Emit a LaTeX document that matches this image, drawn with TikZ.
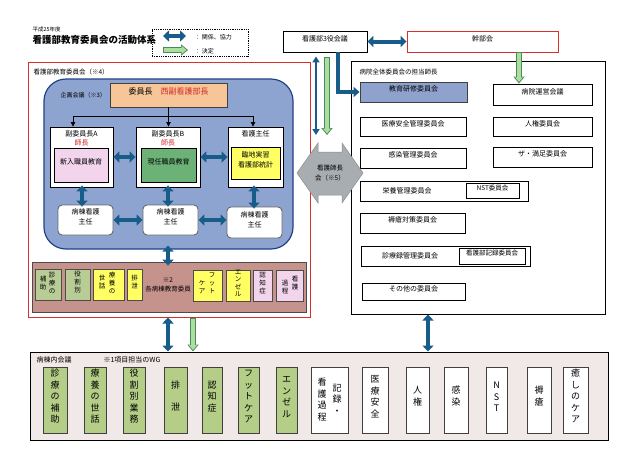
\documentclass[tikz,border=0pt]{standalone}
\usepackage{fontspec}
\setmainfont{Noto Sans CJK JP}
\usetikzlibrary{arrows.meta,fit,calc}
\definecolor{redline}{RGB}{220,45,45}
\definecolor{bluefill}{RGB}{142,164,208}
\definecolor{blueborder}{RGB}{35,65,135}
\definecolor{orangefill}{RGB}{246,198,152}
\definecolor{pinkfill}{RGB}{242,212,236}
\definecolor{midgreen}{RGB}{108,178,118}
\definecolor{yellowfill}{RGB}{255,255,100}
\definecolor{brownfill}{RGB}{198,146,140}
\definecolor{olivefill}{RGB}{184,204,150}
\definecolor{botgreen}{RGB}{180,206,136}
\definecolor{botbg}{RGB}{241,233,231}
\definecolor{ablue}{RGB}{24,92,138}
\definecolor{glight}{RGB}{172,222,160}
\definecolor{gdark}{RGB}{72,140,92}
\definecolor{hexgray}{RGB}{168,173,177}
\definecolor{edufill}{RGB}{142,162,205}
\definecolor{redtxt}{RGB}{215,40,40}
\newcommand\garrow[2]{%
  \draw[garrowout] #1 -- #2;
  \draw[garrowin] #1 -- #2;}
\begin{document}
\begin{tikzpicture}[x=1pt,y=-1pt,
  box/.style={draw=black, line width=0.9pt, fill=white, inner sep=0pt, align=center},
  f7/.style={font=\fontsize{7}{8.5}\selectfont},
  f65/.style={font=\fontsize{6.5}{8}\selectfont},
  vcol/.style={align=center, anchor=north, inner sep=0pt, font=\fontsize{6.5}{8}\selectfont},
  vcolb/.style={align=center, anchor=north, inner sep=0pt, font=\fontsize{9}{11.5}\selectfont},
  colf/.style={font=\fontsize{9}{11.5}\selectfont},
  bdarr/.style={line width=4pt, draw=ablue, {Triangle[width=11pt,length=6pt]}-{Triangle[width=11pt,length=6pt]}},
  bsarr/.style={line width=4pt, draw=ablue, line join=miter, -{Triangle[width=10pt,length=6pt]}},
  tdarr/.style={line width=2.4pt, draw=ablue, {Triangle[width=7pt,length=6pt]}-{Triangle[width=7pt,length=6pt]}},
  thinarr/.style={line width=0.8pt, draw=black, -{Triangle[width=4.5pt,length=4.5pt]}},
  garrowout/.style={line width=5.5pt, draw=gdark, -{Triangle[width=11pt,length=7pt]}},
  garrowin/.style={line width=3.6pt, draw=glight, shorten <=1pt, shorten >=1.5pt, -{Triangle[width=7.6pt,length=4.8pt]}}
]
\useasboundingbox[fill=white] (0,0) rectangle (640,453);

% guide coordinates
\coordinate (tA) at (73,0);
\coordinate (tC) at (253,0);
\coordinate (hy) at (0,116);
\coordinate (vA) at (82,0);
\coordinate (vB) at (168,0);
\coordinate (vC) at (254,0);
\coordinate (v316) at (316,0);
\coordinate (v327) at (327,0);
\coordinate (v338) at (338,0);
\coordinate (v519) at (519,0);
\coordinate (v193) at (193,0);
\coordinate (v428) at (428,0);
\coordinate (hextop) at (330,143);

% title and legend
\node[anchor=west, font=\fontsize{5.5}{6}\selectfont] (year) at (29,29) {平成25年度};
\node[anchor=west, font=\bfseries\fontsize{9.5}{11}\selectfont] (title) at (29,40) {看護部教育委員会の活動体系};
\node[draw, densely dotted, line width=0.8pt, fit={(152,29) (248,56)}, inner sep=0pt] (legend) {};
\coordinate (lgb1) at (163,36);
\coordinate (lgb2) at (186,36);
\coordinate (lgg1) at (163,50);
\coordinate (lgg2) at (188,50);
\draw[bdarr] (lgb1) -- (lgb2);
\garrow{(lgg1)}{(lgg2)}
\node[anchor=west, font=\fontsize{6}{7}\selectfont] (lgt1) at (191,37) {：\ 関係、協力};
\node[anchor=west, font=\fontsize{6}{7}\selectfont] (lgt2) at (191,51) {：\ 決定};

% left red committee box
\node[draw=redline, line width=1pt, fit={(28,62) (310,317)}, inner sep=0pt] (redbox) {};
\node[anchor=west, f65] (redlbl) at (30,72) {看護部教育委員会（※4）};
\node[draw=blueborder, fill=bluefill, line width=1.2pt, rounded corners=22pt, fit={(44,79) (293,249)}, inner sep=0pt] (blue) {};
\node[anchor=west, font=\fontsize{6}{7}\selectfont] (kikaku) at (57,95) {企画会議（※3）};

\node[box, fill=orangefill, draw=black!75, fit={(110,83) (227,107)}, font=\fontsize{8}{9}\selectfont] (chair) {委員長\quad{\color{redtxt}西副看護部長}};

\node[box, fit={(50,127) (113,187)}] (A) {};
\node[box, fit={(136,127) (200,187)}] (B) {};
\node[box, fit={(228,127) (283,187)}] (C) {};
\node[f7] (At) at (81.5,134) {副委員長A};
\node[f7, text=redtxt] (Ar) at (81.5,143) {師長};
\node[f7] (Bt) at (168,134) {副委員長B};
\node[f7, text=redtxt] (Br) at (168,143) {師長};
\node[f7] (Ct) at (255.5,134) {看護主任};
\node[box, fill=pinkfill, fit={(54,148) (108,182)}, f7] (Ai) {新入職員教育};
\node[box, fill=midgreen, fit={(141,148) (196,182)}, f7] (Bi) {現任職員教育};
\node[box, fill=yellowfill, fit={(231,147) (280,179)}, font=\fontsize{7}{10}\selectfont] (Ci) {臨地実習\\看護部統計};

\node[box, rounded corners=4pt, draw=black!60, fit={(58,205) (113,235)}, font=\fontsize{7}{10}\selectfont] (L1) {病棟看護\\主任};
\node[box, rounded corners=4pt, draw=black!60, fit={(143,205) (198,235)}, font=\fontsize{7}{10}\selectfont] (L2) {病棟看護\\主任};
\node[box, rounded corners=4pt, draw=black!60, fit={(227,207) (282,238)}, font=\fontsize{7}{10}\selectfont] (L3) {病棟看護\\主任};

% brown box of ward education committees
\node[box, fill=brownfill, draw=black!70, fit={(32,262) (306,312)}] (brown) {};
\node[box, fill=olivefill, draw=black!70, fit={(35,269) (61,300)}] (b1) {};
\node[vcol] (b1r) at (52,272) {診\\療\\の};
\node[vcol] (b1l) at (43,276) {補\\助};
\node[box, fill=olivefill, draw=black!70, fit={(65,269) (90,300)}, f65] (b2) {役\\割\\別};
\node[box, fill=yellowfill, draw=black!70, fit={(93,269) (124,300)}] (b3) {};
\node[vcol] (b3r) at (112,272) {療\\養\\の};
\node[vcol] (b3l) at (102,275) {世\\話};
\node[box, fill=yellowfill, draw=black!70, fit={(127,269) (142,300)}, f65] (b4) {排\\泄};
\node[align=center, font=\fontsize{6.5}{9}\selectfont] (b5) at (168,285) {※2\\各病棟教育委員};
\node[box, fill=yellowfill, draw=black!70, fit={(193,270) (222,301)}] (b6) {};
\node[vcol] (b6r) at (212,273) {フ\\ッ\\ト};
\node[vcol] (b6l) at (202,280) {ケ\\ア};
\node[box, fill=yellowfill, draw=black!70, fit={(226,270) (250,301)}, font=\fontsize{6.5}{7.3}\selectfont] (b7) {エ\\ン\\ゼ\\ル};
\node[box, fill=pinkfill, draw=black!70, fit={(253,270) (272,301)}, f65] (b8) {認\\知\\症};
\node[box, fill=pinkfill, draw=black!70, fit={(276,270) (303,301)}] (b9) {};
\node[vcol] (b9r) at (295,276) {看\\護};
\node[vcol] (b9l) at (285,280) {過\\程};

% arrows inside blue box
\draw[thinarr] (chair.south) -- (chair.south |- B.north);
\draw[line width=0.8pt] (chair.south |- hy) -- (tA |- hy);
\draw[thinarr] (tA |- hy) -- (tA |- A.north);
\draw[line width=0.8pt] (chair.south |- hy) -- (tC |- hy);
\draw[thinarr] (tC |- hy) -- (tC |- C.north);
\draw[bdarr] (A.east) -- (B.west);
\draw[bdarr] (B.east) -- (C.west);
\draw[bdarr, shorten <=-2pt, shorten >=-2pt] (A.south -| vA) -- (L1.north -| vA);
\draw[bdarr, shorten <=-2pt, shorten >=-2pt] (B.south -| vB) -- (L2.north -| vB);
\draw[bdarr, shorten <=-2pt, shorten >=-2pt] (C.south -| vC) -- (L3.north -| vC);
\draw[bdarr] (L1.east) -- (L2.west);
\draw[bdarr] (L2.east) -- (L3.west |- L2.east);
\draw[bdarr, shorten <=-4pt, shorten >=-4pt] (blue.south -| vB) -- (brown.north -| vB);

% top right
\node[box, fit={(283,31) (367,52)}, f7] (yaku) {看護部3役会議};
\node[box, draw=redline, fit={(407,31) (558,52)}, f7] (kanbu) {幹部会};
\draw[bdarr] (yaku.east) -- (kanbu.west);

% right hospital committee box
\node[box, line width=1pt, fit={(351,61) (605,314)}] (rbox) {};
\node[anchor=west, f65] (rlbl) at (356,72) {病院全体委員会の担当師長};
\node[box, fill=edufill, draw=black!75, fit={(360,82) (467,102)}, f7] (edu) {教育研修委員会};
\node[box, fit={(493,84) (592,105)}, f7] (unei) {病院運営会議};
\node[box, fit={(360,117) (466,136)}, f7] (iryo) {医療安全管理委員会};
\node[box, fit={(493,117) (592,136)}, f7] (jinken) {人権委員会};
\node[box, fit={(360,148) (466,168)}, f7] (kansen) {感染管理委員会};
\node[box, fit={(493,147) (592,167)}, f7] (manzoku) {ザ・満足委員会};
\node[box, fit={(360,181) (528,201)}] (eiyo) {};
\node[f7] (eiyot) at (407,191) {栄養管理委員会};
\node[box, fit={(466,183) (519,198)}, f65] (nst) {NST委員会};
\node[box, fit={(360,213) (465,233)}, f7] (joku) {褥瘡対策委員会};
\node[box, fit={(361,246) (530,266)}] (shinryo) {};
\node[f7] (shinryot) at (410,256) {診療録管理委員会};
\node[box, fit={(459,248) (525,264)}, f65] (kiroku) {看護部記録委員会};
\node[box, fit={(362,283) (465,300)}, f7] (sonota) {その他の委員会};

\garrow{(kanbu.south -| v519)}{(unei.north -| v519)}

% hexagon (nursing managers meeting)
\draw[fill=hexgray, draw=black!45, line width=0.5pt] (297,173) -- (318,143) -- (318,152) -- (342,152) -- (342,143) -- (363,173) -- (342,203) -- (342,195) -- (318,195) -- (318,203) -- cycle;
\node[align=center, font=\fontsize{6.5}{10}\selectfont] (hex) at (330,173) {看護師長\\会（※5）};

% arrows from 3-role meeting
\draw[tdarr, shorten <=4pt, shorten >=8pt] (yaku.south -| v316) -- (hextop -| v316);
\garrow{($(yaku.south -| v327)+(0,5)$)}{($(hextop -| v327)+(0,-8)$)}
\draw[bsarr] (yaku.south -| v338) |- (edu.west);

% bottom ward meeting box
\node[box, fill=botbg, line width=1pt, fit={(30,352) (608,440)}] (bot) {};
\node[anchor=west, font=\fontsize{7}{8}\selectfont] (botl) at (33,360) {病棟内会議};
\node[anchor=west, font=\fontsize{7}{8}\selectfont] (botr) at (100,360) {※1項目担当のWG};

\node[box, fill=botgreen, draw=black!75, fit={(43,367) (67,433)}, colf] (c1) {診\\療\\の\\補\\助};
\node[box, fill=botgreen, draw=black!75, fit={(84,367) (106,433)}, colf] (c2) {療\\養\\の\\世\\話};
\node[box, fill=botgreen, draw=black!75, fit={(123,367) (145,433)}, colf] (c3) {役\\割\\別\\業\\務};
\node[box, fill=botgreen, draw=black!75, fit={(164,367) (187,433)}, colf] (c4) {排\\[10pt]泄};
\node[box, fill=botgreen, draw=black!75, fit={(202,367) (222,433)}, colf] (c5) {認\\知\\症};
\node[box, fill=botgreen, draw=black!75, fit={(238,367) (259,433)}, colf] (c6) {フ\\ッ\\ト\\ケ\\ア};
\node[box, fill=botgreen, draw=black!75, fit={(276,367) (297,433)}, colf] (c7) {エ\\ン\\ゼ\\ル};
\node[box, draw=black!75, fit={(311,367) (348,433)}] (c8) {};
\node[vcolb] (c8l) at (322,378) {看\\護\\過\\程};
\node[vcolb] (c8r) at (337,384) {記\\録\\・};
\node[box, draw=black!75, fit={(362,367) (388,433)}, colf] (c9) {医\\療\\安\\全};
\node[box, draw=black!75, fit={(406,367) (429,433)}, colf] (c10) {人\\権};
\node[box, draw=black!75, fit={(444,367) (468,433)}, colf] (c11) {感\\染};
\node[box, draw=black!75, fit={(486,367) (507,433)}, colf] (c12) {N\\S\\T};
\node[box, draw=black!75, fit={(527,367) (551,433)}, colf] (c13) {褥\\瘡};
\node[box, draw=black!75, fit={(563,367) (588,433)}, colf] (c14) {癒\\し\\の\\ケ\\ア};

% arrows to the bottom box
\draw[bdarr] (redbox.south -| vB) -- (bot.north -| vB);
\garrow{(redbox.south -| v193)}{(bot.north -| v193)}
\draw[bdarr] (rbox.south -| v428) -- (bot.north -| v428);
\end{tikzpicture}
\end{document}
